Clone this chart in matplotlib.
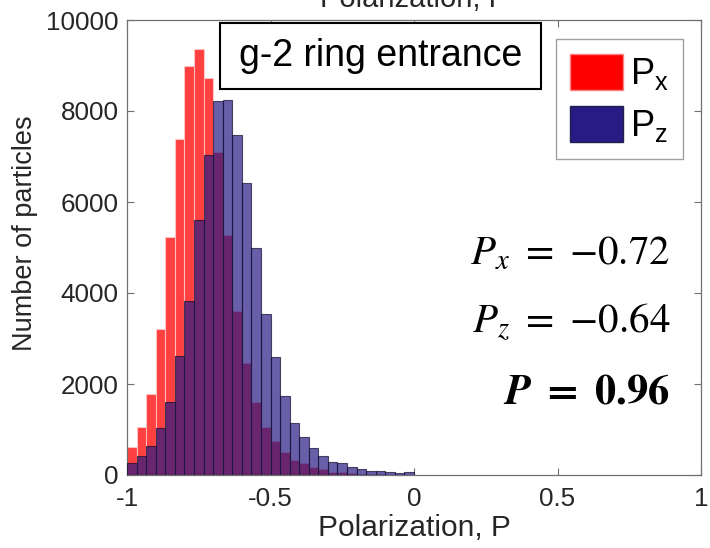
import numpy as np
import matplotlib
matplotlib.use("Agg")
import matplotlib.pyplot as plt
from matplotlib.patches import Rectangle, Patch

plt.rcParams['font.family'] = ['Liberation Sans', 'DejaVu Sans']

# Histogram data: 30 bins of width 1/30 spanning -1 .. 0
bin_lo, bin_hi = -1.0, 0.0
px_counts = [620, 1050, 1790, 3210, 5225, 7380, 9000, 9360, 8730, 7105,
             5275, 3610, 2455, 1610, 1050, 755, 512, 330, 257, 183,
             125, 73, 60, 40, 30, 20, 15, 10, 8, 5]
pz_counts = [255, 415, 645, 1040, 1610, 2615, 3830, 5600, 7030, 8220,
             8240, 7470, 6425, 4980, 3530, 2600, 1736, 1150, 843, 586,
             418, 293, 257, 183, 132, 88, 80, 60, 50, 55]
series_labels = [r'$\mathregular{P_x}$', r'$\mathregular{P_z}$']
annot_texts = [r'$P_x\ =\ {-0.72}$', r'$P_z\ =\ {-0.64}$',
               r'$\mathbfit{P}\ \mathbf{=}\ \mathbf{0.96}$']
box_text = 'g-2 ring entrance'
x_ticks = [-1, -0.5, 0, 0.5, 1]
x_ticklabels = ['-1', '-0.5', '0', '0.5', '1']
y_ticks = [0, 2000, 4000, 6000, 8000, 10000]

edges = np.linspace(bin_lo, bin_hi, len(px_counts) + 1)
width = edges[1] - edges[0]

fig = plt.figure(figsize=(7.10, 5.48), dpi=100)
ax = fig.add_axes([127/710, 1 - 475/548, (701-127)/710, (475-20)/548])

red = '#ff0000'
blue = '#2a1a83'
ax.bar(edges[:-1], px_counts, width=width, align='edge', color=red, alpha=0.75,
       edgecolor='#ffd0d0', linewidth=0.8, zorder=2)
ax.bar(edges[:-1], pz_counts, width=width, align='edge', color=blue, alpha=0.7,
       edgecolor='#101030', linewidth=0.8, zorder=3)

ax.set_xlim(-1, 1)
ax.set_ylim(0, 10000)
ax.set_xticks(x_ticks)
ax.set_xticklabels(x_ticklabels)
ax.set_yticks(y_ticks)
for s in ax.spines.values():
    s.set_color('#707070')
    s.set_linewidth(0.9)
ax.tick_params(direction='in', length=5, width=0.8, colors='#707070',
               labelcolor='#262626', labelsize=18.7, top=True, right=True)
ax.tick_params(axis='x', pad=9)
ax.tick_params(axis='y', pad=6)
ax.set_xlabel('Polarization, P', fontsize=21.5, color='#262626', labelpad=2)
ax.set_ylabel('Number of particles', fontsize=19.5, color='#262626')
ax.yaxis.set_label_coords(-0.155, 0.531)

# cut-off title at top
fig.text(414/710, 1 - 7/548, 'Polarization, P', ha='center', va='baseline',
         fontsize=21, color='#262626')

# text box
ax.add_patch(Rectangle((0.162, 0.848), 0.559, 0.145, transform=ax.transAxes,
                       fill=True, facecolor='white', edgecolor='black', linewidth=1.5,
                       zorder=5))
ax.text(0.4415, 0.921, box_text, transform=ax.transAxes, ha='center', va='center',
        fontsize=27, color='black', zorder=6)

# annotations
ys = [0.4615, 0.312, 0.158]
sizes = [29.5, 29.5, 30.5]
for t, y, fs in zip(annot_texts, ys, sizes):
    ax.text(0.946, y, t, transform=ax.transAxes, ha='right', va='baseline',
            fontsize=fs, color='black', math_fontfamily='stix', zorder=6)

handles = [Patch(facecolor=red, edgecolor='#ff8080'), Patch(facecolor=blue, edgecolor='#202050')]
leg = ax.legend(handles, series_labels, loc='upper right', bbox_to_anchor=(0.969, 0.958),
                borderaxespad=0, fontsize=26, handlelength=1.45, handleheight=1.17,
                handletextpad=0.2, labelspacing=0.39, borderpad=0.4, fancybox=False,
                framealpha=1, edgecolor='#a0a0a0')
leg.get_frame().set_linewidth(1.0)
leg.set_zorder(7)

fig.savefig('out.png', dpi=100)
